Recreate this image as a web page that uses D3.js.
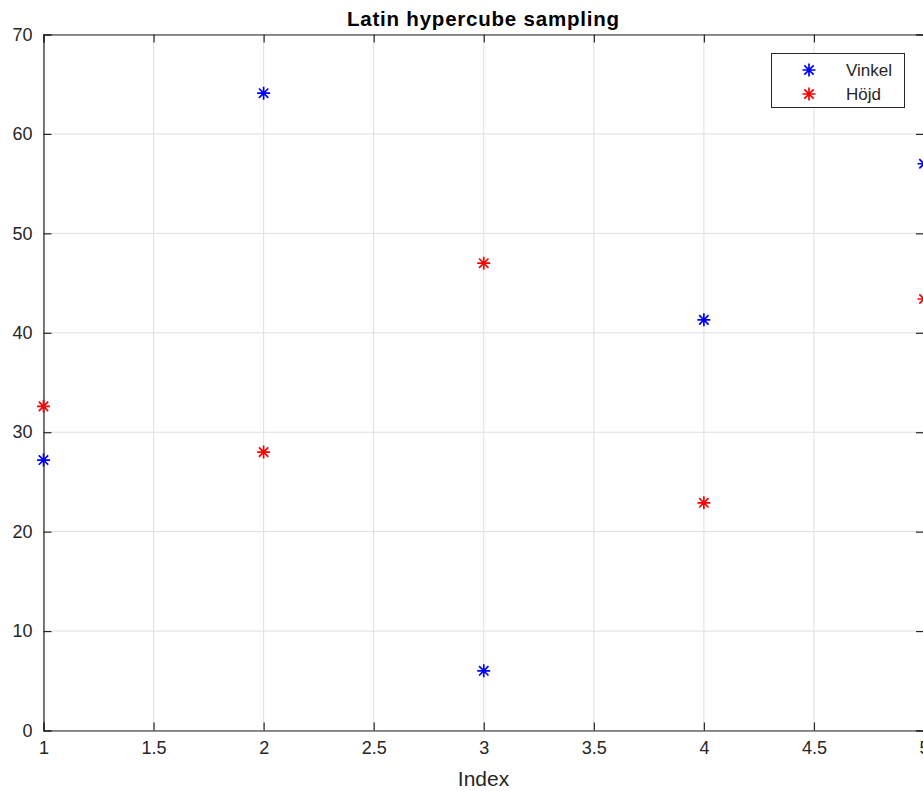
<!DOCTYPE html>
<html><head><meta charset="utf-8">
<script src="https://cdn.jsdelivr.net/npm/d3@7"></script>
<style>body{margin:0;background:#fff}svg{display:block}</style>
</head><body>
<svg id="c" width="923" height="791"></svg>
<script>
const indices = [1, 2, 3, 4, 5];
const vinkel = [27.2, 64.1, 6.0, 41.3, 57.0];
const hojd = [32.6, 28.0, 47.0, 22.9, 43.4];
const xTicks = [1, 1.5, 2, 2.5, 3, 3.5, 4, 4.5, 5];
const yTicks = [0, 10, 20, 30, 40, 50, 60, 70];
const seriesNames = ["Vinkel", "Höjd"];
const seriesColors = ["#0000ff", "#ff0000"];

const svg = d3.select("#c");
const L = 43.5, R = 924, T = 34.5, B = 730.5;
const x = d3.scaleLinear().domain([1, 5]).range([L, R]);
const y = d3.scaleLinear().domain([0, 70]).range([B, T]);
const font = "Helvetica, 'Liberation Sans', Arial, sans-serif";
const axisCol = "#262626";

// grid
svg.append("g").selectAll("line").data(xTicks).join("line")
  .attr("x1", d => x(d)).attr("x2", d => x(d)).attr("y1", T).attr("y2", B)
  .attr("stroke", "#dfdfdf").attr("stroke-width", 1);
svg.append("g").selectAll("line").data(yTicks).join("line")
  .attr("x1", L).attr("x2", R).attr("y1", d => y(d)).attr("y2", d => y(d))
  .attr("stroke", "#dfdfdf").attr("stroke-width", 1);

// axes
const tl = 8;
const axB = svg.append("g").attr("transform", `translate(0,${B})`)
  .call(d3.axisBottom(x).tickValues(xTicks).tickSize(-tl).tickPadding(11).tickFormat(d3.format("")));
const axT = svg.append("g").attr("transform", `translate(0,${T})`)
  .call(d3.axisTop(x).tickValues(xTicks).tickSize(-tl).tickFormat(""));
const axL = svg.append("g").attr("transform", `translate(${L},0)`)
  .call(d3.axisLeft(y).tickValues(yTicks).tickSize(-tl).tickPadding(11));
const axR = svg.append("g").attr("transform", `translate(${R},0)`)
  .call(d3.axisRight(y).tickValues(yTicks).tickSize(-tl).tickFormat(""));
[axB, axT, axL, axR].forEach(a => {
  a.select(".domain").attr("stroke", axisCol).attr("stroke-width", 1.2);
  a.selectAll(".tick line").attr("stroke", axisCol).attr("stroke-width", 1.2);
  a.selectAll("text").attr("fill", axisCol).style("font-family", font).style("font-size", "18px");
});
axB.selectAll("text").attr("dy", "0.71em");

// title & label
svg.append("text").attr("x", 483).attr("y", 26).attr("text-anchor", "middle")
  .attr("textLength", 272).attr("lengthAdjust", "spacing")
  .style("font-family", font).style("font-size", "20.5px").style("font-weight", "bold")
  .attr("fill", "#000").text("Latin hypercube sampling");
svg.append("text").attr("x", 483.5).attr("y", 786).attr("text-anchor", "middle")
  .style("font-family", font).style("font-size", "21px").attr("fill", axisCol).text("Index");

function star(g, cx, cy, col) {
  const r = 6.5, d = r * 0.72;
  const p = `M${cx - r},${cy}L${cx + r},${cy}M${cx},${cy - r}L${cx},${cy + r}` +
    `M${cx - d},${cy - d}L${cx + d},${cy + d}M${cx - d},${cy + d}L${cx + d},${cy - d}`;
  g.append("path").attr("d", p).attr("stroke", col).attr("stroke-width", 1.7).attr("fill", "none");
}
const pts = svg.append("g");
[vinkel, hojd].forEach((s, si) => s.forEach((v, i) => star(pts, x(indices[i]), y(v), seriesColors[si])));

// legend
const lg = svg.append("g");
lg.append("rect").attr("x", 771.5).attr("y", 53.5).attr("width", 133).attr("height", 54)
  .attr("fill", "#fff").attr("stroke", axisCol).attr("stroke-width", 1);
seriesNames.forEach((n, i) => {
  const yy = 70 + i * 24;
  star(lg, 809, yy, seriesColors[i]);
  lg.append("text").attr("x", 846).attr("y", yy).attr("dy", "0.35em")
    .style("font-family", font).style("font-size", "17px").attr("fill", axisCol).text(n);
});
</script>
</body></html>
